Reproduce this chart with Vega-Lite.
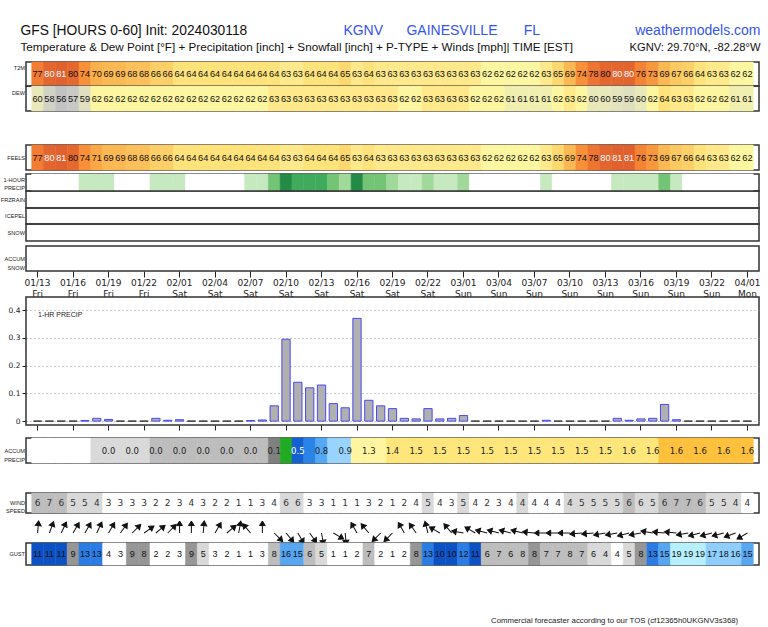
{
"$schema": "https://vega.github.io/schema/vega-lite/v6.json",
"padding": {"left": -1, "top": 0, "right": 0, "bottom": 0},
"spacing": 0,
"bounds": "flush",
"config": {"view": {"stroke": "#333333", "strokeWidth": 1.5}, "font": "Liberation Sans"},
"datasets": {"d": [
{"h":0,"t":77,"dw":60,"fl":77,"p":0,"ac":0,"ws":6.2,"g":11,"ad":5},
{"h":1,"t":80.2,"dw":58,"fl":80.2,"p":0,"ac":0,"ws":7,"g":11,"ad":20},
{"h":2,"t":81,"dw":56,"fl":81,"p":0,"ac":0,"ws":6.1,"g":11,"ad":25},
{"h":3,"t":79.7,"dw":57,"fl":79.7,"p":0,"ac":0,"ws":5.1,"g":9,"ad":30},
{"h":4,"t":74,"dw":59,"fl":74,"p":0.002,"ac":0.002,"ws":4.9,"g":13,"ad":30},
{"h":5,"t":70,"dw":62,"fl":71,"p":0.01,"ac":0.012,"ws":4.2,"g":13,"ad":25},
{"h":6,"t":69,"dw":62,"fl":69,"p":0.006,"ac":0.018,"ws":3.1,"g":3.8,"ad":30},
{"h":7,"t":69,"dw":62,"fl":69,"p":0,"ac":0.018,"ws":3,"g":3,"ad":35},
{"h":8,"t":68,"dw":62,"fl":68,"p":0,"ac":0.018,"ws":3.2,"g":9.1,"ad":45},
{"h":9,"t":68,"dw":62,"fl":68,"p":0,"ac":0.018,"ws":2.9,"g":8.4,"ad":55},
{"h":10,"t":66,"dw":62,"fl":66,"p":0.01,"ac":0.028,"ws":2.3,"g":2,"ad":50},
{"h":11,"t":66,"dw":62,"fl":66,"p":0.003,"ac":0.031,"ws":2.2,"g":2,"ad":45},
{"h":12,"t":64,"dw":62,"fl":64,"p":0.005,"ac":0.036,"ws":2.8,"g":3,"ad":0},
{"h":13,"t":64,"dw":62,"fl":64,"p":0,"ac":0.036,"ws":3.7,"g":8.9,"ad":0},
{"h":14,"t":64,"dw":62,"fl":64,"p":0,"ac":0.036,"ws":3,"g":5,"ad":5},
{"h":15,"t":64,"dw":62,"fl":64,"p":0,"ac":0.036,"ws":2.1,"g":3,"ad":30},
{"h":16,"t":64,"dw":62,"fl":64,"p":0,"ac":0.036,"ws":1.9,"g":2,"ad":50},
{"h":17,"t":64,"dw":62,"fl":64,"p":0,"ac":0.036,"ws":1.2,"g":1,"ad":10},
{"h":18,"t":64,"dw":62,"fl":64,"p":0.002,"ac":0.038,"ws":1.1,"g":1,"ad":320},
{"h":19,"t":64,"dw":62,"fl":64,"p":0.004,"ac":0.042,"ws":2.6,"g":3,"ad":0},
{"h":20,"t":64,"dw":63,"fl":64,"p":0.055,"ac":0.097,"ws":3.8,"g":7.8,"ad":135},
{"h":21,"t":63,"dw":63,"fl":63,"p":0.295,"ac":0.392,"ws":5.7,"g":15.6,"ad":140},
{"h":22,"t":63,"dw":63,"fl":63,"p":0.14,"ac":0.532,"ws":5.6,"g":15.2,"ad":150},
{"h":23,"t":64,"dw":63,"fl":64,"p":0.12,"ac":0.652,"ws":3.2,"g":6.2,"ad":145},
{"h":24,"t":64,"dw":63,"fl":64,"p":0.13,"ac":0.782,"ws":2.8,"g":5.2,"ad":170},
{"h":25,"t":64,"dw":63,"fl":64,"p":0.063,"ac":0.845,"ws":1.2,"g":1,"ad":120},
{"h":26,"t":65,"dw":63,"fl":65,"p":0.048,"ac":0.893,"ws":1,"g":1,"ad":175},
{"h":27,"t":63,"dw":63,"fl":63,"p":0.37,"ac":1.263,"ws":1.3,"g":2,"ad":330},
{"h":28,"t":64,"dw":63,"fl":64,"p":0.075,"ac":1.338,"ws":2.7,"g":7,"ad":320},
{"h":29,"t":63,"dw":63,"fl":63,"p":0.055,"ac":1.393,"ws":2.1,"g":2,"ad":225},
{"h":30,"t":63,"dw":63,"fl":63,"p":0.045,"ac":1.438,"ws":1.3,"g":1,"ad":225},
{"h":31,"t":63,"dw":62,"fl":63,"p":0.01,"ac":1.448,"ws":2,"g":2,"ad":330},
{"h":32,"t":63,"dw":62,"fl":63,"p":0.008,"ac":1.456,"ws":3.6,"g":8.1,"ad":325},
{"h":33,"t":63,"dw":63,"fl":63,"p":0.045,"ac":1.501,"ws":4.7,"g":13.2,"ad":345},
{"h":34,"t":63,"dw":63,"fl":63,"p":0.008,"ac":1.509,"ws":3.8,"g":10,"ad":300},
{"h":35,"t":63,"dw":63,"fl":63,"p":0.01,"ac":1.519,"ws":3.1,"g":10,"ad":320},
{"h":36,"t":63,"dw":63,"fl":63,"p":0.02,"ac":1.539,"ws":4.6,"g":12,"ad":280},
{"h":37,"t":63,"dw":62,"fl":63,"p":0,"ac":1.539,"ws":3.7,"g":11,"ad":300},
{"h":38,"t":62,"dw":62,"fl":62,"p":0,"ac":1.539,"ws":2.2,"g":6.2,"ad":285},
{"h":39,"t":62,"dw":62,"fl":62,"p":0,"ac":1.539,"ws":3,"g":7,"ad":285},
{"h":40,"t":62,"dw":61,"fl":62,"p":0,"ac":1.539,"ws":3.6,"g":6.3,"ad":285},
{"h":41,"t":62,"dw":61,"fl":62,"p":0,"ac":1.539,"ws":4.1,"g":7.6,"ad":285},
{"h":42,"t":62,"dw":61,"fl":62,"p":0,"ac":1.539,"ws":3.9,"g":8.3,"ad":275},
{"h":43,"t":63,"dw":61,"fl":63,"p":0.003,"ac":1.542,"ws":3.9,"g":7,"ad":270},
{"h":44,"t":65,"dw":62,"fl":65,"p":0,"ac":1.542,"ws":3.8,"g":7.1,"ad":270},
{"h":45,"t":69,"dw":63,"fl":69,"p":0,"ac":1.542,"ws":4.2,"g":7.7,"ad":270},
{"h":46,"t":74,"dw":62,"fl":74,"p":0,"ac":1.542,"ws":4.8,"g":7,"ad":265},
{"h":47,"t":78,"dw":60,"fl":78,"p":0,"ac":1.542,"ws":5,"g":5.8,"ad":265},
{"h":48,"t":79.8,"dw":60,"fl":80.2,"p":0,"ac":1.542,"ws":5.2,"g":4.4,"ad":260},
{"h":49,"t":80.1,"dw":59.4,"fl":81,"p":0.01,"ac":1.552,"ws":5.1,"g":3.8,"ad":260},
{"h":50,"t":80.3,"dw":58.9,"fl":81,"p":0.003,"ac":1.555,"ws":6,"g":5,"ad":255},
{"h":51,"t":76,"dw":60,"fl":76,"p":0.008,"ac":1.563,"ws":5.6,"g":8.2,"ad":260},
{"h":52,"t":73,"dw":62,"fl":73,"p":0.01,"ac":1.573,"ws":5.3,"g":13,"ad":280},
{"h":53,"t":69,"dw":64,"fl":69,"p":0.06,"ac":1.633,"ws":6.1,"g":15,"ad":275},
{"h":54,"t":67,"dw":63,"fl":67,"p":0.005,"ac":1.638,"ws":6.8,"g":19,"ad":275},
{"h":55,"t":66,"dw":63,"fl":66,"p":0,"ac":1.638,"ws":7.1,"g":19,"ad":260},
{"h":56,"t":64,"dw":62,"fl":64,"p":0,"ac":1.638,"ws":6.2,"g":19,"ad":255},
{"h":57,"t":63,"dw":62,"fl":63,"p":0,"ac":1.638,"ws":5.2,"g":17,"ad":255},
{"h":58,"t":63,"dw":62,"fl":63,"p":0,"ac":1.638,"ws":4.9,"g":17.8,"ad":255},
{"h":59,"t":62,"dw":61,"fl":62,"p":0,"ac":1.638,"ws":4.3,"g":16,"ad":250},
{"h":60,"t":62,"dw":61,"fl":62,"p":0,"ac":1.638,"ws":3.7,"g":15,"ad":240}
]},
"data": {"name": "d"},
"vconcat": [
{"width": 733, "height": 62, "view": {"stroke": null}, "data": {"values": [{}]},
 "layer": [
  {"mark": {"type": "text", "text": "GFS [HOURS 0-60] Init: 2024030118", "align": "left", "baseline": "alphabetic", "font": "Liberation Sans", "fontSize": 13.8, "color": "#111111", "dx": -5.5, "dy": 4}, "encoding": {"x": {"datum": 0, "type": "quantitative", "scale": {"domain": [0, 1]}, "axis": null}}},
  {"mark": {"type": "text", "text": "KGNV", "align": "left", "baseline": "alphabetic", "font": "Liberation Sans", "fontSize": 14, "color": "#3355ee", "dy": 4}, "encoding": {"x": {"datum": 0.433, "type": "quantitative", "scale": {"domain": [0, 1]}, "axis": null}}},
  {"mark": {"type": "text", "text": "GAINESVILLE", "align": "left", "baseline": "alphabetic", "font": "Liberation Sans", "fontSize": 14, "color": "#3355ee", "dy": 4}, "encoding": {"x": {"datum": 0.519, "type": "quantitative", "scale": {"domain": [0, 1]}, "axis": null}}},
  {"mark": {"type": "text", "text": "FL", "align": "left", "baseline": "alphabetic", "font": "Liberation Sans", "fontSize": 14, "color": "#3355ee", "dy": 4}, "encoding": {"x": {"datum": 0.679, "type": "quantitative", "scale": {"domain": [0, 1]}, "axis": null}}},
  {"mark": {"type": "text", "text": "weathermodels.com", "align": "right", "baseline": "alphabetic", "font": "Liberation Sans", "fontSize": 14, "color": "#3355ee", "dx": 1.5, "dy": 4}, "encoding": {"x": {"datum": 1, "type": "quantitative", "scale": {"domain": [0, 1]}, "axis": null}}},
  {"mark": {"type": "text", "text": "Temperature & Dew Point [°F] + Precipitation [inch] + Snowfall [inch] + P-TYPE + Winds [mph]| TIME [EST]", "align": "left", "baseline": "alphabetic", "font": "Liberation Sans", "fontSize": 11.7, "color": "#111111", "dx": -5.5, "dy": 20}, "encoding": {"x": {"datum": 0, "type": "quantitative", "scale": {"domain": [0, 1]}, "axis": null}}},
  {"mark": {"type": "text", "text": "KGNV: 29.70°N, -82.28°W", "align": "right", "baseline": "alphabetic", "font": "Liberation Sans", "fontSize": 11.2, "color": "#111111", "dx": 1.5, "dy": 20}, "encoding": {"x": {"datum": 1, "type": "quantitative", "scale": {"domain": [0, 1]}, "axis": null}}}
 ]},
{"width": 733, "height": 24,
 "layer": [
  {"mark": {"type": "rect", "strokeWidth": 0.5}, "encoding": {
    "x": {"field": "h", "type": "ordinal", "scale": {"type": "band", "paddingInner": 0, "paddingOuter": 0.48, "round": false}, "axis": null},
    "y": {"datum": "T2M", "type": "nominal", "axis": {"title": null, "ticks": false, "domain": false, "grid": false, "labelFont": "Liberation Sans", "labelFontSize": 5.6, "labelColor": "#222222", "labelPadding": 1.5, "labelLineHeight": 8.5, "labelOffset": -6, "labelExpr": "split(datum.label, ' ')"}},
    "fill": {"field": "t", "type": "quantitative", "legend": null, "scale": {"type": "linear", "domain": [56,57.5,59,60.5,62,63,64,65,66,68,70,72,74,77,80,82], "range": ["#c2c2c2","#cbcbc6","#e0e0c0","#ececb8","#fdf6a0","#ffe98a","#fee27a","#fdd86e","#fdcf67","#fcc05a","#fbb04c","#f9a040","#f79038","#f27c32","#e4662f","#dc5a2e"], "clamp": true}},
    "stroke": {"field": "t", "type": "quantitative", "legend": null, "scale": {"type": "linear", "domain": [56,57.5,59,60.5,62,63,64,65,66,68,70,72,74,77,80,82], "range": ["#c2c2c2","#cbcbc6","#e0e0c0","#ececb8","#fdf6a0","#ffe98a","#fee27a","#fdd86e","#fdcf67","#fcc05a","#fbb04c","#f9a040","#f79038","#f27c32","#e4662f","#dc5a2e"], "clamp": true}}}},
  {"mark": {"type": "text", "font": "Liberation Sans", "fontSize": 9.2}, "encoding": {
    "x": {"field": "h", "type": "ordinal", "axis": null},
    "text": {"field": "t", "type": "quantitative", "format": ".0f"},
    "color": {"condition": {"test": "datum.t >= 80", "value": "#ffffff"}, "value": "#111111"}}}
 ]},
{"width": 733, "height": 25,
 "layer": [
  {"mark": {"type": "rect", "strokeWidth": 0.5}, "encoding": {
    "x": {"field": "h", "type": "ordinal", "scale": {"type": "band", "paddingInner": 0, "paddingOuter": 0.48, "round": false}, "axis": {"orient": "bottom", "title": null, "values": [0,3,6,9,12,15,18,21,24,27,30,33,36,39,42,45,48,51,54,57,60], "domain": false, "grid": false, "ticks": true, "tickSize": 6, "tickColor": "#222222", "tickWidth": 1, "labelFont": "DejaVu Sans", "labelFontSize": 9, "labelColor": "#222222", "labelPadding": 1, "labelLineHeight": 11, "labelAngle": 0, "labelExpr": "[(floor((datum.value + 13) / 24) < 9 ? '0' : '') + (1 + floor((datum.value + 13) / 24)) + '/' + ((datum.value + 13) % 24 < 10 ? '0' : '') + ((datum.value + 13) % 24), ['Fri', 'Sat', 'Sun', 'Mon'][floor((datum.value + 13) / 24)]]"}},
    "y": {"datum": "DEW", "type": "nominal", "axis": {"title": null, "ticks": false, "domain": false, "grid": false, "labelFont": "Liberation Sans", "labelFontSize": 5.6, "labelColor": "#222222", "labelPadding": 1.5, "labelLineHeight": 8.5, "labelOffset": -6, "labelExpr": "split(datum.label, ' ')"}},
    "fill": {"field": "dw", "type": "quantitative", "legend": null, "scale": {"type": "linear", "domain": [56,57.5,59,60.5,62,63,64,65,66,68,70,72,74,77,80,82], "range": ["#c2c2c2","#cbcbc6","#e0e0c0","#ececb8","#fdf6a0","#ffe98a","#fee27a","#fdd86e","#fdcf67","#fcc05a","#fbb04c","#f9a040","#f79038","#f27c32","#e4662f","#dc5a2e"], "clamp": true}},
    "stroke": {"field": "dw", "type": "quantitative", "legend": null, "scale": {"type": "linear", "domain": [56,57.5,59,60.5,62,63,64,65,66,68,70,72,74,77,80,82], "range": ["#c2c2c2","#cbcbc6","#e0e0c0","#ececb8","#fdf6a0","#ffe98a","#fee27a","#fdd86e","#fdcf67","#fcc05a","#fbb04c","#f9a040","#f79038","#f27c32","#e4662f","#dc5a2e"], "clamp": true}}}},
  {"mark": {"type": "text", "font": "Liberation Sans", "fontSize": 9.2, "color": "#111111"}, "encoding": {
    "x": {"field": "h", "type": "ordinal", "axis": null},
    "text": {"field": "dw", "type": "quantitative", "format": ".0f"}}}
 ]},
{"width": 733, "height": 34, "view": {"stroke": null}, "mark": {"type": "text", "text": ""}, "encoding": {}},
{"width": 733, "height": 25,
 "layer": [
  {"mark": {"type": "rect", "strokeWidth": 0.5}, "encoding": {
    "x": {"field": "h", "type": "ordinal", "scale": {"type": "band", "paddingInner": 0, "paddingOuter": 0.48, "round": false}, "axis": null},
    "y": {"datum": "FEELS", "type": "nominal", "axis": {"title": null, "ticks": false, "domain": false, "grid": false, "labelFont": "Liberation Sans", "labelFontSize": 5.6, "labelColor": "#222222", "labelPadding": 1.5, "labelLineHeight": 8.5, "labelExpr": "split(datum.label, ' ')"}},
    "fill": {"field": "fl", "type": "quantitative", "legend": null, "scale": {"type": "linear", "domain": [56,57.5,59,60.5,62,63,64,65,66,68,70,72,74,77,80,82], "range": ["#c2c2c2","#cbcbc6","#e0e0c0","#ececb8","#fdf6a0","#ffe98a","#fee27a","#fdd86e","#fdcf67","#fcc05a","#fbb04c","#f9a040","#f79038","#f27c32","#e4662f","#dc5a2e"], "clamp": true}},
    "stroke": {"field": "fl", "type": "quantitative", "legend": null, "scale": {"type": "linear", "domain": [56,57.5,59,60.5,62,63,64,65,66,68,70,72,74,77,80,82], "range": ["#c2c2c2","#cbcbc6","#e0e0c0","#ececb8","#fdf6a0","#ffe98a","#fee27a","#fdd86e","#fdcf67","#fcc05a","#fbb04c","#f9a040","#f79038","#f27c32","#e4662f","#dc5a2e"], "clamp": true}}}},
  {"mark": {"type": "text", "font": "Liberation Sans", "fontSize": 9.2}, "encoding": {
    "x": {"field": "h", "type": "ordinal", "axis": null},
    "text": {"field": "fl", "type": "quantitative", "format": ".0f"},
    "color": {"condition": {"test": "datum.fl >= 80", "value": "#ffffff"}, "value": "#111111"}}}
 ]},
{"width": 733, "height": 4, "view": {"stroke": null}, "mark": {"type": "text", "text": ""}, "encoding": {}},
{"width": 733, "height": 17,
 "mark": {"type": "rect", "strokeWidth": 0.5},
 "encoding": {
    "x": {"field": "h", "type": "ordinal", "scale": {"type": "band", "paddingInner": 0, "paddingOuter": 0.48, "round": false}, "axis": null},
    "y": {"datum": "1-HOUR PRECIP", "type": "nominal", "axis": {"title": null, "ticks": false, "domain": false, "grid": false, "labelFont": "Liberation Sans", "labelFontSize": 5.6, "labelColor": "#222222", "labelPadding": 1.5, "labelLineHeight": 8.5, "labelOffset": -3, "labelExpr": "split(datum.label, ' ')"}},
    "fill": {"field": "p", "type": "quantitative", "legend": null, "scale": {"type": "threshold", "domain": [0.001,0.015,0.052,0.1,0.2], "range": ["#ffffff","#c7e9c0","#a1d99b","#74c476","#41ab5d","#238b45"]}},
    "stroke": {"field": "p", "type": "quantitative", "legend": null, "scale": {"type": "threshold", "domain": [0.001,0.015,0.052,0.1,0.2], "range": ["#ffffff","#c7e9c0","#a1d99b","#74c476","#41ab5d","#238b45"]}}}},
{"width": 733, "height": 17,
 "mark": {"type": "rect", "opacity": 0},
 "encoding": {
    "x": {"field": "h", "type": "ordinal", "scale": {"type": "band", "paddingInner": 0, "paddingOuter": 0.48, "round": false}, "axis": null},
    "y": {"datum": "FRZRAIN", "type": "nominal", "axis": {"title": null, "ticks": false, "domain": false, "grid": false, "labelFont": "Liberation Sans", "labelFontSize": 5.6, "labelColor": "#222222", "labelPadding": 1.5, "labelExpr": "split(datum.label, ' ')"}}}},
{"width": 733, "height": 16,
 "mark": {"type": "rect", "opacity": 0},
 "encoding": {
    "x": {"field": "h", "type": "ordinal", "scale": {"type": "band", "paddingInner": 0, "paddingOuter": 0.48, "round": false}, "axis": null},
    "y": {"datum": "ICEPEL", "type": "nominal", "axis": {"title": null, "ticks": false, "domain": false, "grid": false, "labelFont": "Liberation Sans", "labelFontSize": 5.6, "labelColor": "#222222", "labelPadding": 1.5, "labelExpr": "split(datum.label, ' ')"}}}},
{"width": 733, "height": 17,
 "mark": {"type": "rect", "opacity": 0},
 "encoding": {
    "x": {"field": "h", "type": "ordinal", "scale": {"type": "band", "paddingInner": 0, "paddingOuter": 0.48, "round": false}, "axis": null},
    "y": {"datum": "SNOW", "type": "nominal", "axis": {"title": null, "ticks": false, "domain": false, "grid": false, "labelFont": "Liberation Sans", "labelFontSize": 5.6, "labelColor": "#222222", "labelPadding": 1.5, "labelExpr": "split(datum.label, ' ')"}}}},
{"width": 733, "height": 5, "view": {"stroke": null}, "mark": {"type": "text", "text": ""}, "encoding": {}},
{"width": 733, "height": 25,
 "mark": {"type": "rect", "opacity": 0},
 "encoding": {
    "x": {"field": "h", "type": "ordinal", "scale": {"type": "band", "paddingInner": 0, "paddingOuter": 0.48, "round": false}, "axis": {"orient": "bottom", "title": null, "values": [0,3,6,9,12,15,18,21,24,27,30,33,36,39,42,45,48,51,54,57,60], "domain": false, "grid": false, "ticks": true, "tickSize": 6, "tickColor": "#222222", "tickWidth": 1, "labelFont": "DejaVu Sans", "labelFontSize": 9, "labelColor": "#222222", "labelPadding": 1, "labelLineHeight": 11, "labelAngle": 0, "labelExpr": "[(floor((datum.value + 13) / 24) < 9 ? '0' : '') + (1 + floor((datum.value + 13) / 24)) + '/' + ((datum.value + 13) % 24 < 10 ? '0' : '') + ((datum.value + 13) % 24), ['Fri', 'Sat', 'Sun', 'Mon'][floor((datum.value + 13) / 24)]]"}},
    "y": {"datum": "ACCUM SNOW", "type": "nominal", "axis": {"title": null, "ticks": false, "domain": false, "grid": false, "labelFont": "Liberation Sans", "labelFontSize": 5.6, "labelColor": "#222222", "labelPadding": 1.5, "labelLineHeight": 9.5, "labelExpr": "split(datum.label, ' ')"}}}},
{"width": 733, "height": 26, "view": {"stroke": null}, "mark": {"type": "text", "text": ""}, "encoding": {}},
{"width": 733, "height": 128,
 "title": {"text": "1-HR PRECIP", "anchor": "start", "frame": "group", "orient": "top", "offset": -21, "dx": 12, "font": "Liberation Sans", "fontSize": 7, "fontWeight": "normal", "color": "#222222"},
 "mark": {"type": "bar", "fill": "#b0b0b0", "strokeWidth": 1},
 "encoding": {
    "x": {"field": "h", "type": "ordinal", "scale": {"type": "band", "paddingInner": 0.3, "paddingOuter": 0.63, "round": false}, "axis": {"orient": "bottom", "title": null, "values": [0,3,6,9,12,15,18,21,24,27,30,33,36,39,42,45,48,51,54,57,60], "domain": false, "grid": false, "ticks": true, "tickSize": 5, "tickColor": "#222222", "labels": false}},
    "y": {"field": "p", "type": "quantitative", "scale": {"domain": [-0.014, 0.447], "nice": false, "zero": false}, "axis": {"title": null, "values": [0, 0.1, 0.2, 0.3, 0.4], "format": "~g", "domain": false, "grid": true, "gridDash": [1, 3], "gridColor": "#999999", "ticks": true, "tickSize": 4, "tickColor": "#222222", "labelFont": "DejaVu Sans", "labelFontSize": 7.5, "labelColor": "#222222", "labelPadding": 2}},
    "y2": {"datum": 0},
    "stroke": {"condition": {"test": "datum.p == 0", "value": "#333333"}, "value": "#4a4af0"}}},
{"width": 733, "height": 13, "view": {"stroke": null}, "mark": {"type": "text", "text": ""}, "encoding": {}},
{"width": 733, "height": 25,
 "layer": [
  {"mark": {"type": "rect", "strokeWidth": 0.5}, "encoding": {
    "x": {"field": "h", "type": "ordinal", "scale": {"type": "band", "paddingInner": 0, "paddingOuter": 0.48, "round": false}, "axis": {"orient": "bottom", "title": null, "values": [0,3,6,9,12,15,18,21,24,27,30,33,36,39,42,45,48,51,54,57,60], "domain": false, "grid": false, "ticks": true, "tickSize": 6, "tickColor": "#222222", "tickWidth": 1, "labelFont": "DejaVu Sans", "labelFontSize": 9, "labelColor": "#222222", "labelPadding": 1, "labelLineHeight": 11, "labelAngle": 0, "labelExpr": "[(floor((datum.value + 13) / 24) < 9 ? '0' : '') + (1 + floor((datum.value + 13) / 24)) + '/' + ((datum.value + 13) % 24 < 10 ? '0' : '') + ((datum.value + 13) % 24), ['Fri', 'Sat', 'Sun', 'Mon'][floor((datum.value + 13) / 24)]]"}},
    "y": {"datum": "ACCUM PRECIP", "type": "nominal", "axis": {"title": null, "ticks": false, "domain": false, "grid": false, "labelFont": "Liberation Sans", "labelFontSize": 5.6, "labelColor": "#222222", "labelPadding": 1.5, "labelLineHeight": 9.5, "labelExpr": "split(datum.label, ' ')"}},
    "fill": {"field": "ac", "type": "quantitative", "legend": null, "scale": {"type": "threshold", "domain": [0.005,0.025,0.09,0.3,0.5,0.6,0.75,0.84,1.0,1.4,1.6], "range": ["#ffffff","#d9d9d9","#bdbdbd","#808080","#22aa22","#1560d0","#2a84e8","#55a8f5","#98d4ff","#fff4a0","#ffe67a","#ffc03c"]}},
    "stroke": {"field": "ac", "type": "quantitative", "legend": null, "scale": {"type": "threshold", "domain": [0.005,0.025,0.09,0.3,0.5,0.6,0.75,0.84,1.0,1.4,1.6], "range": ["#ffffff","#d9d9d9","#bdbdbd","#808080","#22aa22","#1560d0","#2a84e8","#55a8f5","#98d4ff","#fff4a0","#ffe67a","#ffc03c"]}}}},
  {"transform": [{"filter": "datum.h >= 6 && datum.h % 2 == 0"}],
   "mark": {"type": "text", "font": "DejaVu Sans", "fontSize": 8.5}, "encoding": {
    "x": {"field": "h", "type": "ordinal", "axis": null},
    "text": {"field": "ac", "type": "quantitative", "format": ".1f"},
    "color": {"condition": {"test": "datum.ac >= 0.5 && datum.ac < 0.6", "value": "#ffffff"}, "value": "#222222"}}}
 ]},
{"width": 733, "height": 30, "view": {"stroke": null}, "mark": {"type": "text", "text": ""}, "encoding": {}},
{"width": 733, "height": 20,
 "layer": [
  {"mark": {"type": "rect", "strokeWidth": 0.5}, "encoding": {
    "x": {"field": "h", "type": "ordinal", "scale": {"type": "band", "paddingInner": 0, "paddingOuter": 0.48, "round": false}, "axis": null},
    "y": {"datum": "WIND SPEED", "type": "nominal", "axis": {"title": null, "ticks": false, "domain": false, "grid": false, "labelFont": "Liberation Sans", "labelFontSize": 5.6, "labelColor": "#222222", "labelPadding": 1.5, "labelLineHeight": 8, "labelExpr": "split(datum.label, ' ')"}},
    "fill": {"field": "ws", "type": "quantitative", "legend": null, "scale": {"type": "threshold", "domain": [4,6,8,10,12,14,16,18], "range": ["#ffffff","#d9d9d9","#bdbdbd","#969696","#0d52c4","#2b7de6","#56a6f2","#8fcdfe","#b6efff"]}},
    "stroke": {"field": "ws", "type": "quantitative", "legend": null, "scale": {"type": "threshold", "domain": [4,6,8,10,12,14,16,18], "range": ["#ffffff","#d9d9d9","#bdbdbd","#969696","#0d52c4","#2b7de6","#56a6f2","#8fcdfe","#b6efff"]}}}},
  {"mark": {"type": "text", "font": "DejaVu Sans", "fontSize": 9, "color": "#333333"}, "encoding": {
    "x": {"field": "h", "type": "ordinal", "axis": null},
    "text": {"field": "ws", "type": "quantitative", "format": ".0f"}}}
 ]},
{"width": 733, "height": 30, "view": {"stroke": null},
 "mark": {"type": "point", "shape": "M0,0L0,-0.72M-0.24,-0.62L0,-1L0.24,-0.62Z", "filled": true, "fill": "#111111", "stroke": "#111111", "strokeWidth": 1, "size": 576, "opacity": 1},
 "encoding": {
    "x": {"field": "h", "type": "ordinal", "scale": {"type": "band", "paddingInner": 0, "paddingOuter": 0.48, "round": false}, "axis": null},
    "y": {"datum": 0, "type": "quantitative", "scale": {"domain": [-1, 2]}, "axis": null},
    "angle": {"field": "ad", "type": "quantitative", "scale": null}}},
{"width": 733, "height": 22,
 "layer": [
  {"mark": {"type": "rect", "strokeWidth": 0.5}, "encoding": {
    "x": {"field": "h", "type": "ordinal", "scale": {"type": "band", "paddingInner": 0, "paddingOuter": 0.48, "round": false}, "axis": {"orient": "bottom", "title": null, "values": [0,3,6,9,12,15,18,21,24,27,30,33,36,39,42,45,48,51,54,57,60], "domain": false, "grid": false, "ticks": true, "tickSize": 6, "tickColor": "#222222", "tickWidth": 1, "labelFont": "DejaVu Sans", "labelFontSize": 9, "labelColor": "#222222", "labelPadding": 1, "labelLineHeight": 11, "labelAngle": 0, "labelExpr": "[(floor((datum.value + 13) / 24) < 9 ? '0' : '') + (1 + floor((datum.value + 13) / 24)) + '/' + ((datum.value + 13) % 24 < 10 ? '0' : '') + ((datum.value + 13) % 24), ['Fri', 'Sat', 'Sun', 'Mon'][floor((datum.value + 13) / 24)]]"}},
    "y": {"datum": "GUST", "type": "nominal", "axis": {"title": null, "ticks": false, "domain": false, "grid": false, "labelFont": "Liberation Sans", "labelFontSize": 5.6, "labelColor": "#222222", "labelPadding": 1.5, "labelExpr": "split(datum.label, ' ')"}},
    "fill": {"field": "g", "type": "quantitative", "legend": null, "scale": {"type": "threshold", "domain": [4,6,8,10,12,14,16,18], "range": ["#ffffff","#d9d9d9","#bdbdbd","#969696","#0d52c4","#2b7de6","#56a6f2","#8fcdfe","#b6efff"]}},
    "stroke": {"field": "g", "type": "quantitative", "legend": null, "scale": {"type": "threshold", "domain": [4,6,8,10,12,14,16,18], "range": ["#ffffff","#d9d9d9","#bdbdbd","#969696","#0d52c4","#2b7de6","#56a6f2","#8fcdfe","#b6efff"]}}}},
  {"mark": {"type": "text", "font": "Liberation Sans", "fontSize": 9, "color": "#111111"}, "encoding": {
    "x": {"field": "h", "type": "ordinal", "axis": null},
    "text": {"field": "g", "type": "quantitative", "format": ".0f"}}}
 ]},
{"width": 733, "height": 62, "view": {"stroke": null}, "data": {"values": [{}]},
 "mark": {"type": "text", "text": "Commercial forecaster according to our TOS (cf12365h0UKGNV3s368)", "align": "center", "baseline": "middle", "font": "Liberation Sans", "fontSize": 7.8, "color": "#222222", "dy": 25},
 "encoding": {"x": {"datum": 0.803, "type": "quantitative", "scale": {"domain": [0, 1]}, "axis": null}}}
]
}
